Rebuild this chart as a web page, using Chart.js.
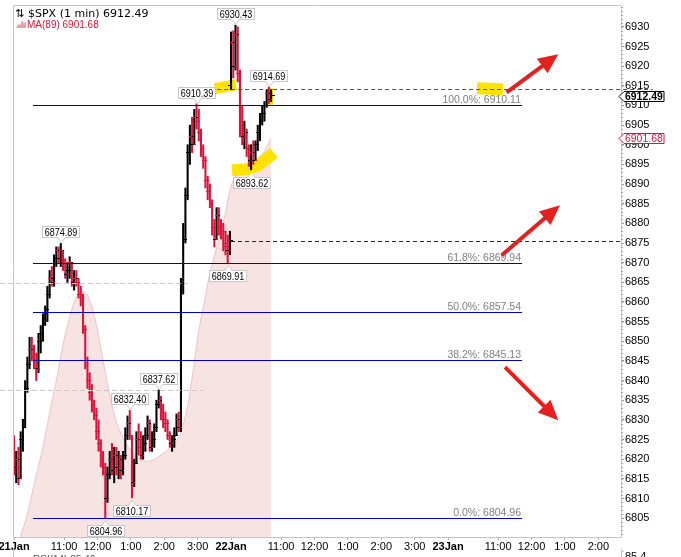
<!DOCTYPE html>
<html><head><meta charset="utf-8">
<script src="https://cdn.jsdelivr.net/npm/chart.js@4.4.1/dist/chart.umd.min.js"></script>
<style>html,body{margin:0;padding:0;background:#fff;overflow:hidden}#wrap{position:relative;width:681px;height:557px}</style>
</head><body><div id="wrap"><canvas id="c" width="681" height="557"></canvas></div>
<script>
// ---- data: trading-minute index (0 = 21 Jan 9:30, 390 = 22 Jan 9:30, 780 = 23 Jan 9:30) ----
const barTime = [0,4,8,12,16,20,24,28,32,36,40,44,48,52,56,60,64,68,72,76,80,84,88,92,96,100,104,108,112,116,120,124,128,132,136,140,144,148,152,156,160,164,168,172,176,180,184,188,192,196,200,204,208,212,216,220,224,228,232,236,240,244,248,252,256,260,264,268,272,276,280,284,288,292,296,300,304,308,312,316,320,324,328,332,336,340,344,348,352,356,360,364,368,372,376,380,384,388,
390,394,398,402,406,410,414,418,422,426,430,434,438,442,446,450,454,458,462];
const barOpen = [6822,6818,6820,6815,6825,6830,6838,6844,6848,6846,
6845,6843,6850,6852,6856,6857,6862,6866,6865,6871,
6873,6871,6873,6869,6867,6868,6870,6865,6866,6865,
6862,6861,6853,6845,6840,6837,6834,6831,6827,6824,
6820,6818,6810,6816,6820,6817,6821,6818,6820,6817,
6821,6826,6829,6826,6814,6819,6825,6823,6821,6824,
6826,6829,6823,6825,6828,6834,6835,6832,6830,6829,
6826,6824,6825,6826,6830,6828,6864,6876,6887,6898,
6902,6900,6907,6906,6903,6899,6896,6891,6888,6885,
6879,6876,6882,6879,6878,6875,6874,6873,
6915,6926,6920,6928,6918,6905,6902,6903,6899,6896,6898,6896,6900,6903,6906,6908,6910,6913,6911.5];
const barHigh = [6826,6822,6823,6827,6830,6840,6846,6851,6851,6849,
6847,6852,6854,6857,6859,6864,6868,6869,6872,6874,
6874,6874.89,6873,6871,6870,6871.5,6870,6868,6868,6866,
6864,6862,6854,6846,6842,6839,6835,6833,6830,6825,
6822,6819,6818,6822,6824,6823,6823,6822,6821,6822,
6828,6831,6832.4,6826,6820,6827,6829,6827,6826,6828,
6831,6830,6827,6829,6835,6837.62,6836,6834,6832,6830,
6827,6826,6828,6831.5,6832,6866,6880,6889,6900,6905,
6907,6909,6910.39,6909,6904,6900,6897,6892,6890,6886,
6881,6884,6884,6881,6880,6878,6877,6878,
6928.7,6929,6930.43,6930,6919,6910,6906,6904,6900,6900,6901,6901,6905,6908,6910,6911,6914,6914.69,6914];
const barLow = [6816,6814,6813.5,6815,6822,6828,6837,6843,6845,6843,
6840,6842,6847,6850,6854,6855,6861,6864,6864,6869,
6870,6869,6868,6866,6865,6866,6864,6863,6864,6861,
6859,6852,6843,6838,6835,6832,6830,6825,6822,6818,
6816,6804.96,6809,6815,6816,6814,6816,6815,6815,6816,
6820,6825,6825,6810.17,6813,6819,6821,6820,6820,6822,
6825,6822,6822,6823,6827,6833,6830,6828,6827,6825,
6823,6822,6823,6826,6827,6827,6862,6875,6886,6895,
6898,6900,6904,6901,6897,6894,6889,6886,6884,6877,
6874,6876,6877,6876,6873,6872,6869.91,6872,
6914,6917,6919,6916,6902,6900,6899,6897,6894.5,6893.62,6895,6896,6898.5,6901,6905,6906,6909.5,6910.5,6911];
const barClose = [6818,6820,6815,6825,6828,6838,6844,6848,6846,6845,
6843,6850,6852,6856,6858,6862,6866,6865,6871,6873,
6871,6873,6869,6867,6868,6870,6865,6866,6865,6862,
6861,6853,6845,6840,6837,6834,6831,6827,6824,6820,
6818,6810,6816,6820,6817,6821,6818,6820,6817,6821,
6826,6829,6826,6814,6819,6825,6823,6821,6824,6826,
6829,6823,6825,6828,6834,6835,6832,6830,6829,6826,
6824,6825,6826,6830,6828,6864,6876,6887,6898,6902,
6900,6907,6906,6903,6899,6896,6891,6888,6885,6879,
6876,6882,6879,6878,6875,6874,6873,6875.6,
6926,6920,6928,6918,6905,6902,6903,6899,6896,6898,6896,6900,6903,6906,6908,6910,6913,6911.5,6912.49];

const maTime = [0,11,22,38,52,65,77,88,101,111,122,129,138,147,156,165,174,183,192,201,212,223,235,248,261,273,284,293,300,307,314,322,329,336,343,350,358,367,374,381,388,397,406,415,424,433,442,451,462];
const maValue = [6794.3,6800.2,6805.0,6814.7,6823.1,6832.5,6840.6,6849.0,6856.6,6861.0,6862.5,6862.2,6859.7,6854.9,6848.2,6841.4,6835.0,6829.9,6826.6,6824.1,6822.0,6820.5,6819.5,6819.7,6820.8,6822.0,6823.3,6824.8,6826.9,6830.4,6835.0,6842.6,6849.8,6855.9,6860.5,6866.1,6870.6,6875.2,6879.0,6883.4,6888.4,6891.8,6893.0,6893.8,6894.3,6895.6,6897.1,6898.6,6901.68];

const fibLevels = [6910.11, 6869.94, 6857.54, 6845.13, 6804.96];
const fibNames = ['100.0%', '61.8%', '50.0%', '38.2%', '0.0%'];
const fibStart = 34, fibEnd = 913;

const calloutBars = [21, 41, 52, 53, 65, 82, 96, 100, 107, 115];
const calloutKinds = ['hi','lo','hi','lo','hi','hi','lo','hi','lo','hi'];

const xTickValues = [0,90,150,210,270,330,390,480,540,600,660,720,780,870,930,990,1050];
const xTickLabels = ['21Jan','11:00','12:00','1:00','2:00','3:00','22Jan','11:00','12:00','1:00','2:00','3:00','23Jan','11:00','12:00','1:00','2:00'];
const yTickValues = [6805,6810,6815,6820,6825,6830,6835,6840,6845,6850,6855,6860,6865,6870,6875,6880,6885,6890,6895,6900,6905,6910,6915,6920,6925,6930];

const lastPrice = 6912.49;
const lastMA = 6901.68;
const titleText = '$SPX (1 min) 6912.49';
const maText = 'MA(89) 6901.68';

// reference lines: value, from index, to index, colour
const refLineValues = [6864.8, 6837.62, 6914.07, 6875.4];
const refLineFrom = [-25, -25, 365, 390];
const refLineTo = [311, 340, 1148, 1091];
const refLineColors = ['#c8c8c8', '#c8c8c8', '#d41a1a', '#1010c8'];

// hand-drawn marks (in data units)
const highlights = [
  {pts: [[361, 6914.3], [399, 6915.3]], w: 11},
  {pts: [[391.7, 6893.5], [420.5, 6893.8], [438.5, 6894.8], [452.8, 6896.3], [467.2, 6898.0]], w: 12},
  {pts: [[460, 6914.4], [460, 6910.1]], w: 6},
  {pts: [[832, 6914.35], [878.6, 6914.1]], w: 12}
];
const arrows = [
  [[885.3, 6913.3], [978, 6923.05]],
  [[876.4, 6871.9], [981, 6884.6]],
  [[882.3, 6843.4], [978, 6829.9]]
];

const xMin = -1.8, xMax = 1090.7, yMin = 6800.2, yMax = 6935.3;

// ---- styling helpers ----
const UP = '#000000', DOWN = '#dc143c';
const barIsUp = barClose.map((c, i) => i === 0 ? c >= barOpen[0] : c >= barClose[i - 1]);
const barColors = barIsUp.map(u => u ? UP : DOWN);
function tickCanvas(color, side) {
  const cv = document.createElement('canvas'); cv.width = 7; cv.height = 1;
  const g = cv.getContext('2d'); g.fillStyle = color;
  if (side === 'L') g.fillRect(0, 0, 3, 1); else g.fillRect(4, 0, 3, 1);
  return cv;
}
const tickL = {up: tickCanvas(UP, 'L'), dn: tickCanvas(DOWN, 'L')};
const tickR = {up: tickCanvas(UP, 'R'), dn: tickCanvas(DOWN, 'R')};
const SANS = '"Liberation Sans", Arial, sans-serif';

const decor = {
  id: 'decor',
  beforeDraw(chart) {
    const c = chart.ctx; c.save(); c.fillStyle = '#fff'; c.fillRect(0, 0, chart.width, chart.height); c.restore();
  },
  afterDatasetDraw(chart, args) {
    if (args.index !== 0) return;
    const c = chart.ctx, xs = chart.scales.x, ys = chart.scales.y;
    c.save();
    c.strokeStyle = '#ffe300'; c.lineCap = 'butt'; c.lineJoin = 'round';
    highlights.forEach(h => {
      c.lineWidth = h.w; c.beginPath();
      h.pts.forEach((p, i) => { const X = xs.getPixelForValue(p[0]), Y = ys.getPixelForValue(p[1]); if (i) c.lineTo(X, Y); else c.moveTo(X, Y); });
      c.stroke();
    });
    c.restore();
  },
  afterDatasetsDraw(chart) {
    const c = chart.ctx, xs = chart.scales.x, ys = chart.scales.y;
    const X = v => xs.getPixelForValue(v), Y = v => ys.getPixelForValue(v);
    c.save();
    refLineValues.forEach((v, i) => {
      const y = Math.round(Y(v)) + 0.5;
      c.strokeStyle = refLineColors[i]; c.lineWidth = 1; c.setLineDash(i < 2 ? [5, 3] : [4, 3]);
      c.beginPath(); c.moveTo(Math.max(0, X(refLineFrom[i])), y); c.lineTo(X(refLineTo[i]), y); c.stroke();
    });
    c.setLineDash([]);
    fibLevels.forEach((v, i) => {
      const y = Math.round(Y(v)) + 0.5;
      c.strokeStyle = '#0000cc'; c.lineWidth = 1;
      c.beginPath(); c.moveTo(Math.round(X(fibStart)), y); c.lineTo(Math.round(X(fibEnd)), y); c.stroke();
      c.font = '10.5px ' + SANS; c.fillStyle = '#808080'; c.textAlign = 'right'; c.textBaseline = 'alphabetic';
      c.fillText(fibNames[i] + ': ' + v.toFixed(2), Math.round(X(fibEnd)) - 1, y - 3);
    });
    calloutBars.forEach((b, i) => {
      const hi = calloutKinds[i] === 'hi';
      const val = hi ? barHigh[b] : barLow[b];
      const px = X(barTime[b]), py = Y(val);
      const text = val.toFixed(2);
      c.font = '11px ' + SANS;
      const w = Math.round(c.measureText(text).width * 0.82 + 4), h = 11;
      const bx = Math.round(px - w / 2) + 0.5;
      const by = hi ? Math.round(py - 6 - h) + 0.5 : Math.round(py + 7) + 0.5;
      c.fillStyle = '#fff'; c.strokeStyle = '#c8c8c8'; c.lineWidth = 1;
      c.fillRect(bx, by, w, h); c.strokeRect(bx, by, w, h);
      const cx = Math.round(px) + 0.5;
      const ey = hi ? by + h : by, ty = hi ? ey + 5 : ey - 5;
      c.beginPath(); c.moveTo(cx - 4, ey); c.lineTo(cx, ty); c.lineTo(cx + 4, ey); c.closePath();
      c.fillStyle = '#fff'; c.fill();
      c.beginPath(); c.moveTo(cx - 4, ey); c.lineTo(cx, ty); c.lineTo(cx + 4, ey); c.stroke();
      c.fillStyle = '#fff'; c.fillRect(cx - 3, hi ? ey - 1 : ey - 0, 6, 1.5);
      c.save(); c.translate(bx + w / 2, by + h / 2 + 0.5); c.scale(0.82, 1);
      c.fillStyle = '#000'; c.textAlign = 'center'; c.textBaseline = 'middle'; c.fillText(text, 0, 0);
      c.restore();
    });
    c.strokeStyle = '#e42020'; c.fillStyle = '#e42020';
    arrows.forEach(a => {
      const x1 = X(a[0][0]), y1 = Y(a[0][1]), x2 = X(a[1][0]), y2 = Y(a[1][1]);
      const ang = Math.atan2(y2 - y1, x2 - x1), cs = Math.cos(ang), sn = Math.sin(ang);
      const hl = 20, hw = 9;
      const bx = x2 - hl * cs, by = y2 - hl * sn;
      c.lineWidth = 4; c.lineCap = 'butt';
      c.beginPath(); c.moveTo(x1, y1); c.lineTo(bx + 3 * cs, by + 3 * sn); c.stroke();
      c.beginPath(); c.moveTo(x2, y2); c.lineTo(bx + hw * sn, by - hw * cs); c.lineTo(bx - hw * sn, by + hw * cs); c.closePath(); c.fill();
    });
    c.restore();
  },
  afterDraw(chart) {
    const c = chart.ctx, ys = chart.scales.y, a = chart.chartArea;
    const Y = v => ys.getPixelForValue(v);
    c.save();
    c.strokeStyle = '#c4c4c4'; c.lineWidth = 1;
    c.beginPath(); c.moveTo(13.5, 5.5); c.lineTo(a.right + 0.5, 5.5); c.stroke();
    c.beginPath(); c.moveTo(13.5, 5.5); c.lineTo(13.5, a.bottom); c.stroke();
    c.beginPath(); c.moveTo(13.5, 549); c.lineTo(13.5, 557); c.stroke();
    c.strokeStyle = '#a8a8a8';
    for (let v = 6801; v <= 6935; v++) {
      const y = Math.round(Y(v)) + 0.5; if (y < a.top || y > a.bottom) continue;
      c.beginPath(); c.moveTo(a.right, y); c.lineTo(a.right + 2, y); c.stroke();
    }
    c.strokeStyle = '#c4c4c4';
    c.beginPath(); c.moveTo(a.right + 0.5, 549); c.lineTo(a.right + 0.5, 557); c.stroke();
    c.beginPath(); c.moveTo(a.right + 0.5, 551.5); c.lineTo(a.right + 3, 551.5); c.stroke();
    c.font = '11px ' + SANS; c.fillStyle = '#000'; c.textAlign = 'left'; c.textBaseline = 'alphabetic';
    c.fillText('85.4', a.right + 4, 560);
    c.font = '10px ' + SANS; c.fillStyle = '#555';
    c.fillText('RSI(14) 85.40', 33, 563);
    function tag(val, txt, color, bold) {
      const y = Math.round(Y(val)) + 0.5, x0 = a.right - 2, x1 = a.right + 3, x2 = a.right + 43, h = 5;
      c.beginPath(); c.moveTo(x0, y); c.lineTo(x1, y - h); c.lineTo(x2, y - h); c.lineTo(x2, y + h); c.lineTo(x1, y + h); c.closePath();
      c.fillStyle = '#fff'; c.fill(); c.strokeStyle = color; c.lineWidth = 1; c.stroke();
      c.font = (bold ? 'bold ' : '') + '11px ' + SANS; c.fillStyle = color; c.textAlign = 'left'; c.textBaseline = 'middle';
      c.save(); c.translate(x1 + 1, y + 0.5); c.scale(0.95, 1); c.fillText(txt, 0, 0); c.restore();
    }
    tag(lastMA, lastMA.toFixed(2), '#dc143c', false);
    tag(lastPrice, lastPrice.toFixed(2), '#000', true);
    c.textAlign = 'left'; c.textBaseline = 'alphabetic';
    c.font = '11px "DejaVu Sans", Verdana, sans-serif'; c.fillStyle = '#000';
    c.fillText('\u21C5', 15, 17);
    c.fillText(titleText, 28, 17);
    c.fillStyle = '#e8a3ab';
    c.beginPath(); c.moveTo(16, 28); c.lineTo(18, 24); c.lineTo(20, 25); c.lineTo(22, 20.5); c.lineTo(24, 23); c.lineTo(26, 22); c.lineTo(26, 28); c.closePath(); c.fill();
    c.font = '10px ' + SANS; c.fillStyle = '#dc143c';
    c.fillText(maText, 27, 28);
    c.restore();
  }
};

new Chart(document.getElementById('c'), {
  type: 'bar',
  data: {
    datasets: [
      { type: 'line', label: 'MA(89)', data: maTime.map((t, i) => ({x: t, y: maValue[i]})),
        borderColor: '#efc3c8', borderWidth: 1, backgroundColor: '#f8e3e3', fill: 'start',
        pointRadius: 0, cubicInterpolationMode: 'monotone', order: 10 },
      { type: 'bar', label: 'range', data: barTime.map((t, i) => ({x: t, y: [barLow[i], barHigh[i]]})),
        backgroundColor: barColors, borderWidth: 0, barThickness: 1.4, grouped: false, order: 5 },
      { type: 'line', label: 'open', data: barTime.map((t, i) => ({x: t, y: barOpen[i]})), showLine: false,
        pointRadius: 2, pointStyle: ctx => barIsUp[ctx.dataIndex || 0] ? tickL.up : tickL.dn, order: 4 },
      { type: 'line', label: 'close', data: barTime.map((t, i) => ({x: t, y: barClose[i]})), showLine: false,
        pointRadius: 2, pointStyle: ctx => barIsUp[ctx.dataIndex || 0] ? tickR.up : tickR.dn, order: 4 }
    ]
  },
  options: {
    responsive: false, animation: false, devicePixelRatio: 1, events: [],
    layout: {padding: {left: 13, top: 6, right: 0, bottom: 0}},
    plugins: {legend: {display: false}, tooltip: {enabled: false}},
    scales: {
      x: {
        type: 'linear', min: xMin, max: xMax, bounds: 'data', offset: false,
        grid: {display: true, drawOnChartArea: false, drawTicks: true, tickLength: 3, color: '#b4b4b4', offset: false},
        border: {display: true, color: '#c4c4c4'},
        ticks: {
          autoSkip: false, maxRotation: 0, minRotation: 0, padding: 0, color: '#000',
          font: ctx => ({family: SANS, size: 11, weight: (xTickLabels[ctx.index] || '').indexOf('Jan') >= 0 ? 'bold' : 'normal'}),
          callback: (v, i) => xTickLabels[i]
        },
        afterBuildTicks: s => { s.ticks = xTickValues.map(v => ({value: v})); },
        afterFit: s => { s.height = 20; s.paddingLeft = 0; s.paddingRight = 0; }
      },
      y: {
        type: 'linear', position: 'right', min: yMin, max: yMax, bounds: 'data',
        grid: {display: true, drawOnChartArea: false, drawTicks: true, tickLength: 3, color: '#909090'},
        border: {display: true, color: '#cccccc'},
        ticks: {padding: 1, color: '#000', font: {family: SANS, size: 11}, callback: v => String(Math.round(v))},
        afterBuildTicks: s => { s.ticks = yTickValues.map(v => ({value: v})); },
        afterFit: s => { s.width = 60; s.paddingTop = 0; s.paddingBottom = 0; }
      }
    }
  },
  plugins: [decor]
});
</script>
</body></html>
